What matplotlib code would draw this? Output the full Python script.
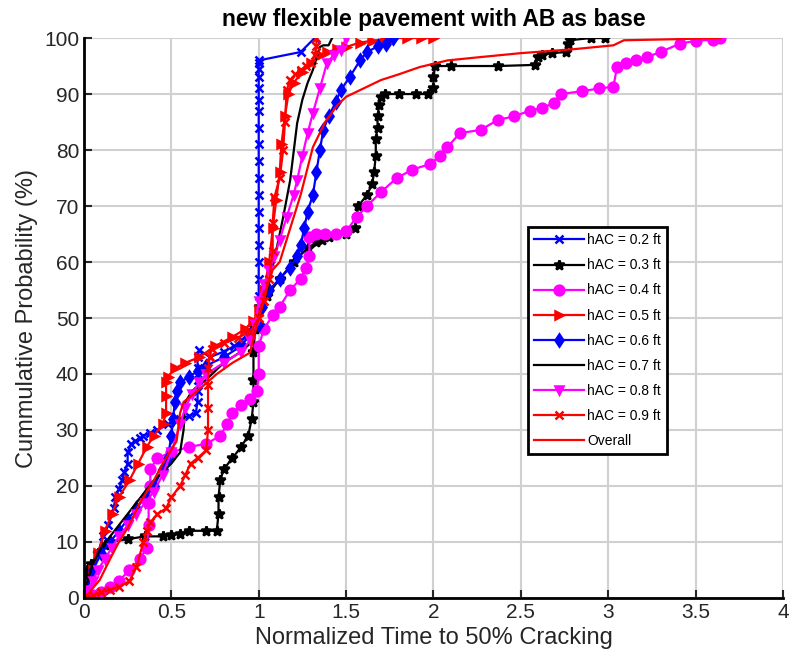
import numpy as np
import matplotlib.pyplot as plt

plt.rcParams['font.family'] = ['Liberation Sans', 'DejaVu Sans']

# values (normalized time, cumulative %)
x_02 = [0, 0.02, 0.05, 0.08, 0.11, 0.14, 0.17, 0.18, 0.2, 0.22, 0.23, 0.25, 0.25, 0.27, 0.29,
        0.32, 0.34, 0.38, 0.42, 0.48, 0.55, 0.6, 0.64, 0.65, 0.65, 0.65, 0.65, 0.65, 0.66, 0.72,
        0.8, 0.86, 0.9, 0.94, 0.97, 0.99, 1.0, 1.0, 1.0, 1.0, 1.0, 1.0, 1.0, 1.0, 1.0, 1.0,
        1.0, 1.0, 1.0, 1.0, 1.0, 1.0, 1.0, 1.0, 1.0, 1.24, 1.32]
y_02 = [0, 2, 5, 8, 11, 13, 16, 18, 19.5, 21, 22.5, 24, 26, 27.5, 28,
        28.5, 29, 29.5, 30, 31, 32, 32.5, 33, 35, 37, 39, 41, 43, 44.3, 43,
        44, 45, 46, 47, 48, 49, 51, 54, 57, 60, 63, 66, 69, 72, 75, 78,
        81, 84, 87, 89, 91, 93, 94.5, 95.5, 96, 97.5, 100]

x_03 = [0, 0.0, 0.01, 0.02, 0.04, 0.08, 0.12, 0.15, 0.25, 0.35, 0.45, 0.5, 0.55, 0.6, 0.7,
        0.76, 0.77, 0.77, 0.78, 0.8, 0.85, 0.9, 0.94, 0.96, 0.97, 0.97, 0.97, 0.98, 1.0, 1.05,
        1.12, 1.2, 1.28, 1.33, 1.36, 1.4, 1.5, 1.55, 1.56, 1.57, 1.62, 1.65, 1.66, 1.67, 1.67,
        1.68, 1.68, 1.69, 1.7, 1.72, 1.8, 1.9, 1.97, 2.0, 2.0, 2.01, 2.1, 2.37, 2.58, 2.6,
        2.62, 2.68, 2.76, 2.77, 2.78, 2.9, 2.98]
y_03 = [0, 2, 4, 5, 6, 8, 9.5, 10, 10.5, 11, 11, 11.2, 11.5, 12, 12,
        12, 15, 18, 21, 23, 25, 27, 29, 32, 35, 39, 44, 48, 52, 54,
        57, 60, 62.5, 63.5, 64, 64.5, 65, 66, 68, 70, 72, 74, 76, 79, 82,
        84, 86, 88, 89.5, 90, 90, 90, 90, 91, 93, 95, 95, 95, 95.2, 96.6,
        97, 97.3, 97.5, 99, 99.6, 100, 100]

x_04 = [0, 0.05, 0.1, 0.15, 0.2, 0.26, 0.32, 0.36, 0.37, 0.37, 0.38, 0.38, 0.42, 0.5, 0.6,
        0.7, 0.78, 0.82, 0.85, 0.9, 0.95, 0.99, 1.0, 1.0, 1.03, 1.08, 1.12, 1.18, 1.24, 1.27,
        1.29, 1.29, 1.33, 1.38, 1.44, 1.5, 1.56, 1.62, 1.7, 1.79, 1.88, 1.98, 2.04, 2.08, 2.15,
        2.27, 2.37, 2.46, 2.55, 2.62, 2.69, 2.73, 2.85, 2.95, 3.03, 3.05, 3.1, 3.16, 3.22, 3.3,
        3.41, 3.5, 3.6, 3.64]
y_04 = [0, 0.5, 1, 2, 3, 5, 7, 9, 13, 17, 20, 23, 25, 26, 27,
        27.5, 29, 31, 33, 34.5, 35.5, 37, 40, 45, 48, 50.5, 52, 55, 57, 59,
        61, 64.5, 65, 65, 65, 65.5, 68, 70, 72.5, 75, 76.5, 77.5, 79, 80.5, 83,
        83.6, 85.4, 86, 87, 87.5, 88.4, 90, 90.5, 91, 91.3, 94.8, 95.5, 96, 96.6, 97.5,
        99, 99.5, 99.7, 100]

x_05 = [0, 0.02, 0.05, 0.08, 0.12, 0.16, 0.2, 0.26, 0.31, 0.36, 0.4, 0.45, 0.47, 0.47, 0.47,
        0.48, 0.52, 0.58, 0.66, 0.75, 0.85, 0.92, 0.97, 1.0, 1.03, 1.06, 1.08, 1.1, 1.12, 1.13,
        1.15, 1.17, 1.2, 1.25, 1.3, 1.35, 1.39, 1.45, 1.5, 1.58, 1.65, 1.72, 1.77, 1.85, 1.93,
        2.0]
y_05 = [0, 2, 5, 8, 12, 15, 18, 21, 24, 27, 29, 31, 33, 36, 38.5,
        39.5, 41, 42, 43, 45, 46.6, 48, 49.5, 51.4, 55, 60, 66, 71, 76, 81,
        86, 90, 92, 94, 95.5, 97, 97.5, 98, 98.4, 99.2, 99.5, 99.8, 100, 100, 100,
        100]

x_06 = [0, 0.02, 0.05, 0.1, 0.15, 0.2, 0.25, 0.3, 0.35, 0.4, 0.45, 0.48, 0.5, 0.51, 0.52,
        0.53, 0.55, 0.6, 0.65, 0.7, 0.8, 0.9, 0.95, 1.0, 1.02, 1.06, 1.12, 1.18, 1.22, 1.24,
        1.26, 1.28, 1.31, 1.33, 1.35, 1.37, 1.4, 1.44, 1.47, 1.52, 1.58, 1.62, 1.68, 1.73, 1.77]
y_06 = [0, 2, 5, 8, 10, 12, 14, 16, 18, 20, 23, 25, 29, 32, 35,
        37, 38.5, 39.5, 40.5, 41.5, 43, 45, 47, 49, 52, 55, 57, 59, 61, 63,
        66, 69, 72, 76, 80, 83.6, 86, 88.5, 90.7, 93, 96, 97.5, 98.5, 99, 100]

x_07 = [0, 0.02, 0.05, 0.1, 0.15, 0.2, 0.3, 0.4, 0.5, 0.55, 0.57, 0.58, 0.62, 0.7, 0.8,
        0.9, 0.97, 1.0, 1.05, 1.1, 1.14, 1.18, 1.22, 1.25, 1.28, 1.31, 1.35, 1.37, 1.4, 1.42]
y_07 = [0, 3, 6, 9, 11, 13, 17, 21, 24, 26, 30, 35, 37, 39, 42,
        44, 46, 50, 55, 62, 68, 74.6, 84.8, 89, 92, 94.3, 98.4, 98.7, 98.7, 100]

x_08 = [0, 0.02, 0.05, 0.08, 0.12, 0.16, 0.2, 0.25, 0.3, 0.35, 0.4, 0.45, 0.5, 0.55, 0.58,
        0.62, 0.66, 0.7, 0.8, 0.9, 0.95, 0.98, 1.0, 1.03, 1.06, 1.09, 1.12, 1.16, 1.2, 1.22,
        1.25, 1.28, 1.31, 1.35, 1.39, 1.43, 1.47, 1.5]
y_08 = [0, 1.5, 3, 5, 7, 9, 11, 13, 15, 17, 19, 22, 26, 31, 34,
        36.5, 38.5, 40, 42, 44, 46, 49, 53, 56, 58.5, 61, 64, 68, 72, 74.6,
        79, 83, 86.6, 91, 95.5, 97, 97.9, 100]

x_09 = [0, 0.05, 0.1, 0.15, 0.2, 0.26, 0.3, 0.34, 0.36, 0.38, 0.42, 0.47, 0.5, 0.55, 0.58,
        0.61, 0.65, 0.7, 0.71, 0.71, 0.71, 0.71, 0.72, 0.73, 0.8, 0.88, 0.95, 1.0, 1.03, 1.06,
        1.08, 1.08, 1.09, 1.12, 1.14, 1.15, 1.16, 1.18, 1.21, 1.24, 1.27, 1.3, 1.32, 1.33, 1.33]
y_09 = [0, 0.5, 1, 1.5, 2, 3, 5.5, 10, 12, 13.5, 15, 16, 18, 20, 22,
        24, 25, 26.4, 30, 34, 38, 41, 43, 44.5, 45.5, 46.5, 47.5, 50, 53, 57,
        62, 67, 71.6, 75, 80, 85, 90.7, 92.5, 93.5, 94.3, 95, 95.5, 97, 98.5, 100]

x_all = [0, 0.03, 0.09, 0.15, 0.2, 0.25, 0.32, 0.4, 0.45, 0.53, 0.55, 0.57, 0.65, 0.76, 0.85,
         0.95, 1.0, 1.04, 1.08, 1.12, 1.18, 1.24, 1.31, 1.38, 1.45, 1.5, 1.6, 1.7, 1.8, 1.92,
         2.08, 2.27, 2.5, 2.8, 3.03, 3.09, 3.4, 3.64]
y_all = [0, 1, 3.2, 7, 10, 12.5, 17, 21, 24, 28, 33, 35, 37, 40, 42,
         43.8, 50, 55, 58.6, 60, 66, 72, 80.5, 85, 88, 89.5, 91, 92.5, 93.5, 94.8,
         96, 96.6, 97.3, 98, 98.7, 99.6, 99.8, 100]

labels = ['hAC = 0.2 ft', 'hAC = 0.3 ft', 'hAC = 0.4 ft', 'hAC = 0.5 ft', 'hAC = 0.6 ft',
          'hAC = 0.7 ft', 'hAC = 0.8 ft', 'hAC = 0.9 ft', 'Overall']
xs = [x_02, x_03, x_04, x_05, x_06, x_07, x_08, x_09, x_all]
ys = [y_02, y_03, y_04, y_05, y_06, y_07, y_08, y_09, y_all]
colors = ['#0000ff', 'k', '#ff00ff', '#ff0000', '#0000ff', 'k', '#ff00ff', '#ff0000', '#ff0000']
markers = ['x', '*', 'o', '>', 'd', 'None', 'v', 'x', 'None']
msizes = [6, 7, 7, 6, 6, 0, 6, 6, 0]

fig = plt.figure(figsize=(7.92, 6.59), dpi=100)
ax = fig.add_axes([0.106, 0.0926, 0.8826, 0.8497])

for x, y, c, m, ms, lab in zip(xs, ys, colors, markers, msizes, labels):
    ax.plot(x, y, color=c, marker=m, markersize=ms, markeredgewidth=1.8,
            linewidth=1.6, label=lab)

ax.set_xlim(0, 4)
ax.set_ylim(0, 100)
ax.set_xticks(np.arange(0, 4.01, 0.5))
ax.set_xticklabels(['0', '0.5', '1', '1.5', '2', '2.5', '3', '3.5', '4'])
ax.set_yticks(np.arange(0, 101, 10))
ax.grid(True, color='#d0d0d0', linewidth=1.5)
ax.set_axisbelow(True)
for s in ['top', 'right']:
    ax.spines[s].set_visible(False)
for s in ['left', 'bottom']:
    ax.spines[s].set_linewidth(2)
ax.tick_params(direction='in', length=6, width=1.5, labelsize=15, colors='#262626')

ax.set_xlabel('Normalized Time to 50% Cracking', fontsize=17, color='#262626')
ax.set_ylabel('Cummulative Probability (%)', fontsize=17, color='#262626')
ax.set_title('new flexible pavement with AB as base', fontsize=16.5, fontweight='bold', pad=9)

leg = ax.legend(loc='upper left', bbox_to_anchor=(528 / 792, 1 - 227 / 659),
                bbox_transform=fig.transFigure, borderaxespad=0, fontsize=10,
                handlelength=3.6, labelspacing=0.8, borderpad=0.45, handletextpad=0.2,
                fancybox=False, framealpha=1, edgecolor='k')
leg.get_frame().set_linewidth(2)

fig.savefig('out.png', dpi=100)
